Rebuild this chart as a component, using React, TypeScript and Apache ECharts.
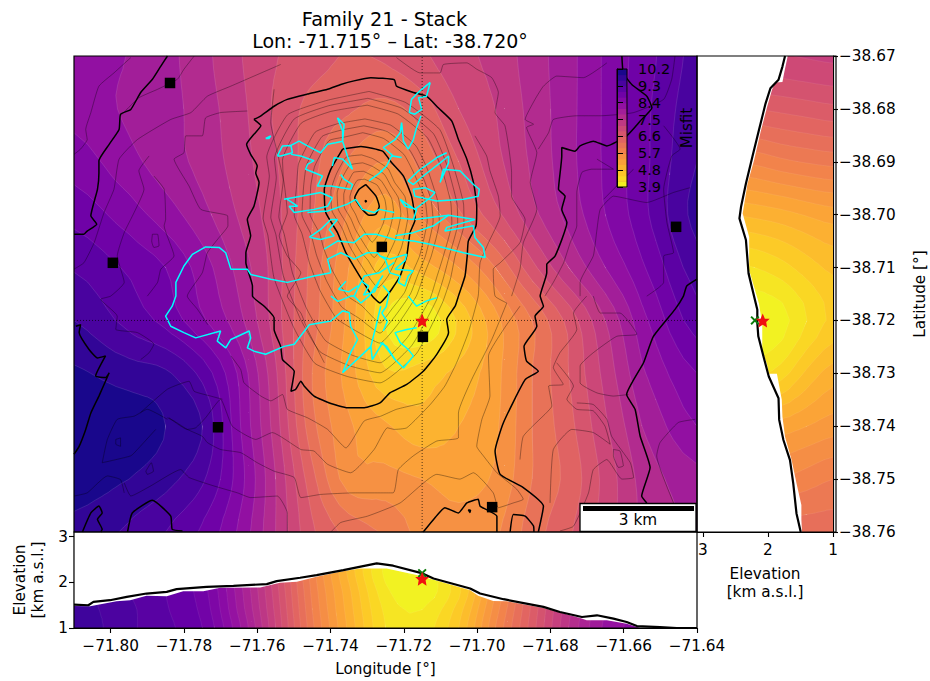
import React, { useEffect, useRef } from "react";
import * as echarts from "echarts";

const LON_W = -71.81, LON_E = -71.64, LAT_N = -38.67, LAT_S = -38.76;
const ELEV_R_MAX = 3.09, ELEV_B_MAX = 3.1;
const FONT = "DejaVu Sans";

const titleLine1 = "Family 21 - Stack";
const titleLine2 = "Lon: -71.715° – Lat: -38.720°";
const lonTicks = [-71.8, -71.78, -71.76, -71.74, -71.72, -71.7, -71.68, -71.66, -71.64];
const latTicks = [-38.67, -38.68, -38.69, -38.7, -38.71, -38.72, -38.73, -38.74, -38.75, -38.76];
const elevTicks = [1, 2, 3];
const misfitTicks = [3.9, 4.8, 5.7, 6.6, 7.5, 8.4, 9.3, 10.2];
const vent = { lon: -71.715, lat: -38.72, elevStarR: 2.08, elevStarB: 2.08, elevCross: 2.2 };

const plasmaStops = ["#0d0887", "#41049d", "#6a00a8", "#8f0da4", "#b12a90", "#cc4778", "#e16462", "#f2844b", "#fca636", "#fcce25", "#f0f921"];
const mapLevels = [3.9, 4.2, 4.5, 4.8, 5.1, 5.4, 5.7, 6, 6.3, 6.6, 6.9, 7.2, 7.5, 7.8, 8.1, 8.4, 8.7, 9, 9.3, 9.6, 9.9, 10.2];
const sectionLevels = [3.7, 3.9, 4.1, 4.3, 4.5, 4.7, 4.9, 5.1, 5.3, 5.5, 5.7, 5.9, 6.1, 6.3, 6.5, 6.7, 6.9, 7.1, 7.3, 7.5, 7.7, 7.9, 8.1, 8.3, 8.5, 8.7, 8.9, 9.1, 9.3, 9.5, 9.7, 9.9];

const lonCols = [-71.81, -71.795, -71.785, -71.775, -71.765, -71.755, -71.745, -71.735, -71.725, -71.715, -71.705, -71.695, -71.685, -71.675, -71.665, -71.655, -71.64];
const latRows = [-38.67, -38.68, -38.69, -38.7, -38.71, -38.72, -38.73, -38.74, -38.75, -38.76];
const misfitMap = [
  [8.25, 8.09, 7.9, 7.6, 7.23, 6.92, 6.72, 6.58, 6.65, 6.85, 7.1, 7.3, 7.65, 8.0, 8.45, 8.85, 9.4],
  [8.3, 8.05, 7.92, 7.65, 7.3, 6.85, 6.5, 6.34, 6.2, 6.45, 6.9, 7.2, 7.6, 8.0, 8.45, 8.9, 9.5],
  [8.56, 8.2, 7.95, 7.7, 7.35, 6.93, 6.4, 5.97, 5.7, 6.1, 6.6, 7.1, 7.55, 8.0, 8.45, 8.9, 9.6],
  [8.9, 8.55, 8.25, 7.9, 7.47, 7.0, 6.33, 5.67, 5.2, 5.75, 6.25, 6.8, 7.4, 7.9, 8.4, 8.9, 9.7],
  [9.27, 8.95, 8.7, 8.25, 7.7, 7.05, 6.2, 5.4, 4.65, 4.95, 5.4, 6.0, 6.8, 7.5, 8.1, 8.65, 9.45],
  [9.6, 9.2, 8.9, 8.45, 7.9, 7.05, 6.15, 5.3, 4.2, 3.95, 4.55, 5.3, 6.0, 6.7, 7.5, 8.3, 9.15],
  [9.95, 9.75, 9.65, 9.2, 8.35, 7.25, 6.0, 5.25, 4.55, 4.65, 4.9, 5.3, 6.0, 6.6, 7.3, 8.05, 8.7],
  [10.15, 10.1, 9.9, 9.6, 8.45, 7.35, 6.1, 5.45, 5.15, 4.9, 5.1, 5.35, 6.0, 6.5, 7.15, 7.8, 8.4],
  [10.08, 9.9, 9.7, 9.35, 8.55, 7.5, 6.4, 5.55, 5.5, 5.4, 5.3, 5.45, 6.0, 6.4, 7.0, 7.6, 8.0],
  [9.8, 9.55, 9.3, 8.95, 8.35, 7.5, 6.65, 6.2, 5.95, 5.6, 5.5, 5.65, 6.15, 6.55, 7.05, 7.55, 7.85],
];
const elevCols = [1.0, 1.4, 1.8, 2.2, 2.6];
const misfitRight = [
  [7.15, 7.12, 7.08, 7.05, 7.0],
  [6.65, 6.6, 6.55, 6.5, 6.45],
  [5.97, 5.92, 5.85, 5.75, 5.7],
  [5.2, 5.12, 5.02, 4.95, 4.9],
  [4.75, 4.6, 4.42, 4.3, 4.25],
  [4.55, 4.3, 4.02, 3.93, 3.95],
  [5.0, 4.75, 4.4, 4.25, 4.25],
  [5.4, 5.3, 5.2, 5.2, 5.2],
  [5.9, 5.8, 5.7, 5.65, 5.65],
  [6.2, 6.2, 6.2, 6.2, 6.2],
];
const misfitBottom = [
  [9.65, 9.35, 9.15, 8.9, 8.15, 7.1, 5.95, 5.05, 4.3, 4.2, 4.7, 5.7, 6.6, 7.5, 8.15, 8.4, 8.6],
  [9.6, 9.35, 9.12, 8.85, 8.05, 7.05, 5.9, 5.0, 4.25, 4.1, 4.6, 5.6, 6.55, 7.45, 8.1, 8.4, 8.6],
  [9.6, 9.3, 9.1, 8.8, 8.0, 7.0, 5.85, 4.95, 4.15, 3.97, 4.45, 5.5, 6.5, 7.4, 8.05, 8.4, 8.6],
  [9.6, 9.3, 9.1, 8.75, 7.95, 6.95, 5.8, 4.85, 4.05, 3.93, 4.5, 5.55, 6.5, 7.4, 8.05, 8.4, 8.6],
  [9.6, 9.3, 9.1, 8.75, 7.95, 6.95, 5.8, 4.85, 4.05, 3.93, 4.5, 5.55, 6.5, 7.4, 8.05, 8.4, 8.6],
];

// Terrain profile, east of LON_W in millidegrees / elevation in km
const profileLon = [[0, 1.513], [3.9, 1.498], [5.3, 1.571], [9.8, 1.608], [14.4, 1.681], [19.8, 1.754], [25.3, 1.791], [28, 1.85], [36.2, 1.901], [43.5, 1.923], [52.6, 1.96], [55.3, 2.026], [61.7, 2.099], [66.2, 2.157], [73.5, 2.267], [82.6, 2.414], [87.1, 2.363], [95.1, 2.194], [98.1, 2.084], [108.1, 1.864], [110.8, 1.754], [117.2, 1.63], [128.1, 1.461], [132.6, 1.351], [138.6, 1.241], [142.7, 1.278], [147.2, 1.205], [150.8, 1.131], [153.6, 1.043], [159.9, 1.021], [164.5, 1.0], [170, 1.0]];
const fillTopLon = [[0, 1.483], [4.4, 1.476], [11.6, 1.586], [15.3, 1.608], [19.8, 1.703], [25.3, 1.696], [29.8, 1.806], [35.3, 1.806], [39.9, 1.879], [50.8, 1.886], [56.2, 1.989], [60.8, 2.011], [66.2, 2.121], [72.6, 2.231], [78.1, 2.304], [85.3, 2.304], [93.5, 2.157], [101.7, 1.974], [108.1, 1.828], [110.3, 1.703], [114.4, 1.593], [118.1, 1.586], [128.1, 1.439], [138.1, 1.219], [139.9, 1.168], [145.4, 1.168], [150.8, 1.095], [154.5, 1.0], [170, 1.0]];
// elevation km / latitude
const profileLat = [[1.737, -38.67], [1.777, -38.672], [1.837, -38.6745], [1.962, -38.6761], [2.037, -38.679], [2.138, -38.684], [2.238, -38.689], [2.338, -38.6941], [2.413, -38.6985], [2.438, -38.7007], [2.338, -38.7048], [2.298, -38.7111], [2.163, -38.718], [2.163, -38.7205], [2.148, -38.723], [2.062, -38.7271], [1.987, -38.7306], [1.837, -38.7347], [1.827, -38.7388], [1.762, -38.7426], [1.661, -38.7464], [1.611, -38.7508], [1.561, -38.7565], [1.496, -38.76]];
const fillTopLat = [[1.696, -38.67], [1.747, -38.673], [1.777, -38.6749], [1.887, -38.675], [1.937, -38.6764], [2.012, -38.6796], [2.112, -38.6843], [2.213, -38.6897], [2.313, -38.6941], [2.388, -38.6998], [2.288, -38.7042], [2.288, -38.7105], [2.138, -38.7168], [2.087, -38.7208], [2.087, -38.7256], [2.012, -38.7284], [1.987, -38.7301], [1.862, -38.7301], [1.787, -38.735], [1.777, -38.7382], [1.737, -38.742], [1.636, -38.7464], [1.561, -38.7508], [1.486, -38.7549], [1.486, -38.7577], [1.476, -38.76]];

const stations = [[-71.7838, -38.6751], [-71.726, -38.7061], [-71.7148, -38.7231], [-71.6457, -38.7023], [-71.7994, -38.7091], [-71.7707, -38.7402], [-71.6959, -38.7553]];

// Map lines: [east of LON_W, south of LAT_N] in millidegrees
const thickContours = [
  [[49.1, 12], [51, 11.3], [54.6, 9.5], [58.2, 8.2], [63.7, 7.2], [69.2, 6.3], [72.8, 5.4], [76.4, 4.7], [81, 4.1], [87.4, 4.5], [88, 5.7], [92.6, 6.9], [96.2, 7.6], [99.4, 9.8], [103.1, 12.3], [104.9, 15.8], [107.2, 19.5], [109, 23.9], [109.9, 28.4], [109.7, 32.1], [107.6, 35], [107.3, 37.8], [106.7, 41.6], [104.9, 45.4], [104, 47.3], [101.7, 49.8], [102.2, 52.3], [99, 56.4], [95.3, 59.6], [90.8, 62.1], [86.2, 63.7], [83.5, 65.6], [79.2, 66.5], [74.6, 66.5], [70.1, 65.7], [65.5, 64.3], [62.8, 62.4], [61.9, 61.5], [60.5, 63], [59.2, 63.4], [60.1, 59.6], [56.9, 57.4], [56.4, 54.9], [54.6, 51.7], [54.6, 49.5], [51.9, 47.3], [48.7, 45.4], [48.7, 43.5], [46.9, 39.1], [46.9, 37.2], [48.2, 34], [47.3, 30.9], [49.1, 28.4], [50.5, 23.9], [49.6, 22.1], [50, 20.8], [48.2, 18.6], [47.1, 16.7], [49.1, 14.8], [51, 13.2], [49.1, 12]],
  [[73.3, 17.6], [78.3, 17.1], [84.2, 18], [86.7, 20.2], [89.9, 22.7], [92.1, 26.5], [93.1, 30.9], [91.7, 33.4], [90.8, 37.8], [89, 41.6], [86.7, 44.1], [85.3, 45.4], [83.5, 46.7], [81.4, 45.4], [77.4, 41], [74.2, 37.2], [71.9, 33.4], [68.7, 29.6], [68.3, 25.2], [70.1, 21.4], [73.3, 17.6]],
  [[79.6, 24.3], [82.4, 26.5], [83.3, 28.4], [82.4, 29.9], [80.5, 30.1], [78.3, 28.7], [76.6, 26.8], [77.8, 25.2], [79.6, 24.3]],
  [[79.4, 27.3], [79.8, 27.4], [79.6, 27.6], [79.4, 27.3]],
  [[25.5, 0], [23.7, 1.9], [21.4, 4.4], [18.2, 6.9], [15.5, 10.1], [12.7, 11], [12.3, 13.9], [9.6, 16.7], [6.8, 19.8], [6.8, 22.1], [6.4, 25.2], [4.6, 30.2], [6.2, 31.8], [3.6, 33.1], [2.7, 33.7], [0, 33.7]],
  [[0.5, 51.1], [1.8, 50.8], [1.4, 52.3], [4.1, 55.5], [6.4, 57.1], [8.6, 56.7], [5.9, 60.5], [8.6, 60.8], [9.6, 59.9], [6.8, 64.3], [4.6, 67.5], [3.2, 70.6], [1.4, 73.8], [0, 75.3]],
  [[2.3, 90], [4.6, 86.4], [6.8, 85.1], [7.7, 86.4], [6.4, 87.6], [7.7, 89.5], [7.3, 90]],
  [[14.6, 90], [15.9, 86.4], [21.4, 84], [26.4, 87], [26.8, 89.5], [29.6, 89.8]],
  [[149.5, 0], [149.9, 3.2], [152.2, 5.4], [156.3, 7.6], [157.7, 9.8], [154.5, 12.3], [150.8, 15.1], [145.4, 17], [141.7, 16.1], [138.1, 17], [136.7, 18], [133.1, 17.3], [133.1, 18.9], [132.2, 25.2], [134, 26.5], [133.1, 29], [134.5, 31.5], [131.3, 37.8], [129, 39.4], [129, 41], [127.2, 45.4], [128.1, 47.3], [125.8, 49.2], [126.3, 51.1], [122.8, 54.9], [123.5, 57.7], [126.7, 59.6], [123.1, 61.2], [117.2, 69.3], [114.9, 74.7], [116.3, 79.1], [122.6, 81.6], [128.1, 85.1], [126.7, 90]],
  [[170, 42.2], [167.2, 43.5], [166.3, 45.4], [164, 47.9], [158.1, 53], [155.4, 58], [150.8, 64], [153.1, 66.8], [154.5, 71.9], [157.2, 77.8], [154.9, 83.2], [156.3, 84.5]],
  [[95.3, 90], [98.5, 87.3], [101.2, 85.4], [104.9, 86.4], [107.2, 84.5], [110.3, 83.8], [110.8, 85.1], [115.4, 87], [115.4, 90]],
  [[119, 90], [119.9, 86.7], [123.1, 87], [125.4, 88.9], [125.5, 90]],
  [[107.6, 85.8], [108.2, 85.9], [108, 86.3], [107.6, 85.8]],
];

const thinContours = [
  [[79.3, 23.3], [82.7, 24.4], [84.8, 27.1], [85.2, 28.9], [84.4, 31.6], [82.7, 34.1], [81.4, 35.2], [79, 32.9], [77.7, 31.4], [76.8, 29.9], [75.5, 28.3], [75.3, 26.6], [76, 25], [77.3, 23.5], [79.3, 23.3]],
  [[79, 21.8], [83.7, 23.5], [86.7, 27], [87.2, 29.4], [86, 33.2], [83.7, 36.6], [81.9, 38.1], [78.6, 34.9], [76.8, 32.8], [75.5, 30.7], [73.8, 28.7], [73.6, 26.2], [74.6, 24.1], [76.3, 22], [79, 21.8]],
  [[78.8, 20.2], [81.5, 20.9], [84.7, 22.4], [86.5, 24.6], [88.5, 26.8], [89.2, 29.9], [87.7, 34.7], [84.7, 39.1], [82.5, 41], [80.2, 38.6], [78.2, 37], [75.9, 34.3], [74.3, 31.6], [72.1, 29], [71.8, 25.9], [73.1, 23.2], [75.3, 20.6], [78.8, 20.2]],
  [[78.5, 18.7], [81.5, 19.4], [85.7, 21.3], [87.5, 23.9], [90.3, 26.6], [91.1, 30.4], [89.3, 36.3], [85.7, 41.6], [83, 43.8], [77.8, 39], [75.1, 35.8], [73.1, 32.5], [70.4, 29.3], [70.1, 25.5], [71.6, 22.3], [74.3, 19.1], [78.5, 18.7]],
  [[78.8, 14.5], [84.5, 15.6], [90, 18.6], [92.5, 21.8], [95.7, 26.9], [96.4, 31.1], [94.3, 37.8], [92, 41.5], [90.2, 44.7], [87, 47.6], [83.5, 50.5], [78.5, 47.2], [74.5, 45.3], [70.6, 40.7], [68.2, 36.5], [67, 33.5], [64.4, 29.9], [64.6, 24.6], [65.7, 20.8], [69.6, 16], [74, 15.3], [78.8, 14.5]],
  [[79.1, 13.2], [85.5, 14.3], [91.6, 17.8], [94.5, 21.6], [97.4, 27.1], [98, 31.2], [95.9, 37.8], [93.8, 41.4], [91.8, 45], [87.8, 49], [83.5, 52.4], [77.8, 49.6], [73, 47.4], [68.9, 42.5], [66.2, 37.7], [64.6, 33.6], [62.2, 30], [62.7, 24.3], [63.5, 20.5], [67.7, 15.2], [73, 14], [79.1, 13.2]],
  [[79.4, 11.9], [86.5, 13.1], [93.3, 17], [96.5, 21.5], [99.2, 27.3], [99.7, 31.4], [97.5, 37.8], [95.6, 41.2], [93.4, 45.4], [88.5, 50.6], [83.5, 54.3], [77, 52], [71.6, 49.6], [67.1, 44.3], [64.2, 39], [62.2, 33.6], [60.1, 30.1], [60.8, 24], [61.3, 20.3], [65.8, 14.4], [72, 12.8], [79.4, 11.9]],
  [[80, 9.3], [88.5, 11], [96.5, 15.5], [100.2, 21], [102.8, 27.6], [103.1, 31.6], [100.8, 37.8], [99, 41.8], [97.1, 46], [91, 53.2], [83.5, 58], [76, 56.6], [68.6, 53.8], [63.5, 47.8], [59.6, 41], [57.4, 33.8], [55.9, 30.4], [57.1, 23.4], [56.9, 19.7], [62, 12.7], [70, 10.5], [80, 9.3]],
  [[80.2, 8], [89.5, 9.9], [98.1, 14.7], [101.8, 20.7], [104.5, 27.8], [104.7, 31.7], [102.4, 37.8], [100.8, 42], [98.8, 46.3], [92.2, 54.7], [83.5, 59.9], [75.3, 58.6], [67.1, 55.9], [61.7, 49.6], [57.1, 41.5], [55.1, 33.8], [53.7, 30.5], [55.2, 23], [54.7, 19.4], [60.1, 11.9], [69.5, 9.4], [80.2, 8]],
  [[80.5, 6.7], [90.5, 8.8], [99.8, 13.9], [103.4, 20.5], [106.3, 28], [106.4, 31.9], [104, 37.8], [102.7, 42.2], [100.5, 46.7], [93.5, 56.2], [83.5, 61.8], [74.6, 60.6], [65.7, 58.1], [60, 51.4], [54.6, 42], [52.9, 33.9], [51.6, 30.7], [53.3, 22.7], [52.6, 19.1], [58.3, 11.1], [69, 8.4], [80.5, 6.7]],
  [[32.8, 0], [30, 2.5], [28.2, 4.4], [22.8, 6.3], [17.7, 7.9], [12.7, 11.3]],
  [[15.5, 0.3], [10.9, 3.2], [6.8, 5.7], [4.6, 10.7], [3.2, 13.9], [3.6, 15.8], [1.8, 17.6], [0, 18.6]],
  [[56.4, 1.6], [49.1, 3.8], [42.8, 5.7], [36.4, 7.6], [31.9, 10.7], [26.4, 12], [17.3, 15.8], [12.3, 19.5], [10.9, 25.2], [8.2, 29.6], [5.5, 35.3], [2.7, 39.1], [0, 40.3]],
  [[47.3, 10.4], [40, 10.7], [35.9, 11.7], [35, 15.1], [30.5, 15.1], [30, 18.3], [27.3, 19.5], [31.4, 24.6], [34.6, 29], [41.9, 30.2], [42, 32.1], [39.6, 34.3], [36.4, 37.2], [35, 41], [30.9, 45.4], [33.7, 47.9], [36.5, 50.8]],
  [[20.5, 18.9], [17.7, 21.7], [19.1, 25.2], [16.4, 29.6], [13.7, 33.4], [11.8, 37.8], [13.7, 42.8], [10, 45.4], [7.3, 46], [11.8, 49.2], [11.4, 51.7], [17.3, 52.3], [21.8, 54.5], [20.5, 56.1], [18.2, 57.4]],
  [[21.8, 22.7], [24.6, 25.2], [25, 30.9], [24.6, 32.1], [27.3, 37.8], [23.7, 40.3], [22.8, 42.8], [20, 45.4]],
  [[21.4, 33.7], [22.8, 33.7], [23.2, 35.9], [21.8, 36.2], [21.2, 35], [21.4, 33.7]],
  [[54.6, 6.3], [53.7, 12.6], [55.5, 18.3], [57.3, 23.9], [58.2, 29.6], [56, 34], [58.2, 37.8], [61.9, 41], [58.2, 45.4], [61.9, 48.6], [63.7, 51.7], [68.3, 58]],
  [[88, 0.3], [94.4, 3.2], [99.9, 3.2], [100.8, 1.6], [107.2, 1.3], [109.9, 2.5], [114, 4.1], [115.8, 6.9], [114.9, 10.7], [117.6, 13.2], [119.4, 22], [119.4, 26.5], [123.1, 30.9], [121.7, 35.3], [116.3, 39.1], [114.4, 40.3], [114.9, 45.4], [118.1, 46.7]],
  [[109.4, 15.1], [112.6, 18.9], [113.5, 21.7], [115.8, 26.5], [116.3, 30.2], [113.1, 35.3], [110.8, 39.1], [110.3, 45.4], [107.6, 52.3], [104.4, 58], [101.2, 62.4], [97.2, 65.9], [90.8, 70.3], [87.4, 70.6], [85.5, 70.3], [81.9, 74.4], [75.5, 78.8], [69.2, 77.2], [65.5, 74.7], [61.9, 74.4], [54.1, 71.2], [49.6, 72.5], [43.2, 70], [40, 64.9], [35.9, 68.4], [33.2, 70.3], [30.9, 70.6], [25.9, 68.4]],
  [[145.4, 1.3], [139, 4.1], [131.7, 3.8], [128.1, 5.7], [125.8, 8.2], [123.1, 12], [125.4, 12.9], [123.5, 13.5], [126.3, 18.3], [124.5, 23.9], [126.3, 29], [122.6, 35.3], [121.7, 40.3], [119.4, 45.4]],
  [[164, 0], [163.1, 4.4], [160.9, 8.2], [152.7, 10.7], [143.6, 11.3], [137.2, 11.3], [130.8, 12], [129.5, 14.5], [126.7, 17.6]],
  [[142.7, 19.5], [147.2, 21.4], [141.3, 21.4], [138.6, 22], [137.2, 25.8], [137.2, 32.1], [135.4, 35.3], [133.6, 39.1], [130.8, 42.8], [128.5, 45.4]],
  [[168.1, 24.9], [163.6, 25.8], [156.3, 27.7], [147.2, 26.5], [143.6, 29], [142.7, 32.8], [141.7, 37.8], [138.1, 42.8], [138.1, 45.4]],
  [[152.7, 21.4], [149.9, 23.3], [144.5, 27.1]],
  [[160.9, 13.2], [165.4, 17.6], [163.1, 18.9], [160.9, 25.2], [161.8, 31.5], [163.6, 37.2], [160.9, 37.8], [160.9, 42.8], [156.3, 45.4]],
  [[42.8, 56.7], [45.5, 59.3], [46.4, 61.8], [51, 64.3], [53.7, 65.2], [56.9, 64], [58.2, 66.8], [63.7, 68.4], [69.2, 70.6], [74.2, 74.1], [79.2, 69], [83.7, 68.1], [88, 66.8], [95.3, 65.6]],
  [[18.2, 67.4], [25.5, 63], [31.4, 61.5], [32.8, 63.4], [37.3, 64.3], [40.5, 64.9]],
  [[25.5, 68.4], [27.3, 69], [30.9, 70.6], [35, 71.9], [36.4, 73.1], [40, 74.4], [45.5, 75], [50, 76.9], [54.6, 78.5], [60.1, 79.7], [61.9, 83.5], [67.3, 82.9], [76.4, 82.6], [87.1, 82.6], [88.5, 78.2], [92.6, 75.6], [99, 72.8], [104.9, 72.2], [104.9, 67.5], [108.5, 61.2], [114, 53.6], [118.1, 46.7]],
  [[13.7, 80.7], [15.5, 83.2], [20.9, 81.3], [29.1, 78.2], [31.4, 79.7], [38.2, 81.3], [44.6, 82.6], [48.2, 83.5], [55.5, 83.2], [58.2, 86.4], [58.2, 90]],
  [[7.7, 76.9], [9.1, 72.5], [11.8, 68.7], [16.4, 68.1], [20, 66.8], [25.5, 68.7]],
  [[7.7, 76.9], [15.5, 75.6], [17.3, 74.4], [22.3, 70.6]],
  [[11.4, 72.5], [12.7, 72.2], [12.7, 73.8], [11.4, 73.4], [11.4, 72.5]],
  [[19.6, 78.5], [21.1, 76.9], [21.7, 78.5], [20, 79.1], [19.6, 78.5]],
  [[70.1, 90], [72.8, 88.2], [80.1, 87], [89, 84.5], [99, 79.1], [105.3, 80], [109, 78.8], [114.4, 82.6], [115.8, 85.4], [119.9, 84.5], [122.6, 83.8], [120.8, 81.9], [115.4, 78.8], [111.7, 75.6], [109.9, 73.8], [111.3, 68.7], [113.5, 64.3], [113.1, 56.7], [117.2, 51.7], [121.7, 47.3]],
  [[0, 83.2], [3.6, 82.6], [9.1, 79.4], [12.7, 80.1], [13.7, 82.6]],
  [[121.7, 76.3], [122.6, 71.9], [129, 67.4], [130.4, 66.2], [129.5, 62.4], [133.5, 62.1], [130.8, 58.9], [132.6, 56.1], [137.2, 51.7], [136.3, 48.6], [139.9, 45.4]],
  [[129.9, 84.5], [130.8, 74.4], [135.8, 70.6], [141.7, 71.2], [146.3, 73.4], [144.9, 70], [141.7, 67.1], [137.2, 66.8], [134.5, 64.9], [136.3, 62.4], [131.7, 58]],
  [[137.2, 65.6], [141.7, 65.9], [145.4, 68.7], [146.7, 71.9], [151.8, 76.9], [152.7, 79.7], [149.5, 80], [145.4, 76.3], [141.7, 78.2], [140.4, 82.6], [136.3, 88.9], [132.6, 89.8]],
  [[147.2, 74.4], [149, 74.7], [149.9, 77.5], [148.6, 77.8], [147.2, 75.6], [147.2, 74.4]],
  [[163.6, 84.5], [159, 75.6], [159.9, 73.1], [164.9, 69.3], [169.5, 68.7]],
  [[151.3, 64], [147.2, 64.3], [142.7, 63.7], [138.1, 61.8], [138.1, 58.6], [141.7, 56.1], [148.1, 53], [153.6, 52.6], [149, 48.6], [143.6, 48.6], [141.7, 45.4]],
];

const lavaFlows = [
  [[70.1, 41], [65.5, 41.6], [58.2, 42.8], [53.7, 42.2], [48.2, 41.3], [47.3, 40.3], [42.8, 40.3], [41.4, 37.2], [39.6, 36.2], [35.9, 36.1], [32.3, 37.5], [30, 39.7], [27.8, 42.8], [27.8, 45.4], [26.8, 47.3], [25, 49.2], [26.4, 51.1], [30, 52.3], [33.2, 53.3], [40, 52], [39.1, 53.9], [41.4, 55.2], [42.8, 53.6], [47.8, 52], [48.2, 53.3], [47.3, 55.2], [49.1, 55.8], [52.3, 56.4], [57.3, 54.9], [60.1, 54.5], [64.2, 50.8], [70.1, 50.1], [73.3, 48.2], [75.1, 48.5], [75.5, 51.1], [77.4, 53.6], [75.5, 56.1], [73.3, 59.9], [78.3, 56.7], [81, 54.9], [81.4, 57.4], [84.2, 54.2], [87.6, 57.4], [89.9, 59], [92.6, 56.7], [91.2, 55.5], [89, 54.2], [87.6, 52.3], [90.8, 51.7], [93.5, 51.4]],
  [[83.7, 47.3], [82.4, 51.1], [81, 54.9]],
  [[83.5, 54.2], [85.3, 54.9], [87.6, 57.4]],
  [[70.1, 45.4], [72, 46.4], [75.5, 45.4], [76.4, 45.4], [78.3, 46.7], [80.5, 45.4], [84.3, 41.5]],
  [[91.2, 45.4], [93.5, 47.3], [96.2, 46.3], [99, 45.7]],
  [[84.3, 43.4], [86, 44.8], [85.2, 47.4], [84, 48.6], [85.5, 50.2], [84.4, 52]],
  [[78.5, 42.6], [80.4, 43.5], [79, 45.2], [82, 44.6], [83.2, 42.8]],
  [[74.2, 42.6], [72.2, 44.1], [75, 44.6], [77.6, 43.4]],
  [[97.2, 5], [96.2, 7.6], [94, 7.9], [94.9, 10.1], [93, 11], [91.5, 10.7], [92.1, 8.2], [93.5, 7.2], [94.4, 6.6], [97.2, 5]],
  [[94.7, 11.3], [93.5, 13.5], [92.6, 15.8], [91.2, 17.6], [89.9, 16.1], [89.4, 12.6], [89, 14.5], [87.6, 15.8], [84.4, 17.3], [87.1, 18.9], [89.4, 19.2], [86.7, 18.9], [85.3, 20.8], [83.5, 22], [84.2, 21.7], [80.5, 23.6]],
  [[101.7, 18.3], [99, 19.2], [94, 21.7], [91.2, 23.6], [92.6, 24.3], [95.8, 22.4], [99.9, 20.2], [102.2, 18.9], [102.2, 20.2], [99.9, 23.9], [100.8, 21.4], [105.3, 21.7], [109, 24.3], [110.6, 25.2], [110.3, 26.5], [106.3, 27.1], [99, 27.4], [93, 26.5], [92.6, 25.2], [95.8, 24.9], [98.5, 25.8], [97.2, 26.8], [93, 29], [89, 27.1], [90.3, 28.4], [93.5, 29], [92.6, 30.9], [88.5, 30.6], [83.7, 30.9]],
  [[93, 30.9], [102.2, 30.1], [109.4, 30.9], [101.7, 32.4], [101.2, 33.1], [109, 32.1], [109.4, 34.3], [111.7, 36.2], [112.2, 38.1], [106.3, 37.2], [97.2, 35.6], [92.6, 35], [87.6, 34.7], [82.4, 33.7], [79.2, 33.7], [76.4, 35.3], [71.9, 35], [68.3, 36.5]],
  [[102.2, 30.1], [98.1, 32.1], [92.6, 33.4], [87.6, 34]],
  [[83.5, 37.8], [86.2, 38.4], [90.8, 37.5], [90.3, 38.7], [87.6, 40.3], [92.6, 40.6], [91.2, 41.6], [90.3, 43.5], [88.5, 42.8], [89, 41.6], [86.2, 41], [84.9, 38.4], [83.5, 37.8], [82.8, 37.2], [80.1, 37.2], [76.4, 38.4], [72.8, 37.2], [69.2, 38.4], [70.1, 41]],
  [[52.3, 15.6], [53.7, 15.1], [53.2, 15.6], [52.3, 15.6]],
  [[55.5, 18.9], [56.9, 17], [59.2, 16.9], [59.6, 18.3], [56.4, 18.9], [55.5, 18.9]],
  [[59.2, 16.9], [61.4, 16.1], [63.7, 17], [67.3, 18.3], [69.2, 16.7], [71.4, 16.4], [73.3, 16.1], [73.3, 14.2], [71.9, 11.7], [73.7, 12.9], [73.3, 16.1], [74.6, 18.9], [76, 21.4], [73.3, 19.5], [71, 19.2], [70.5, 20.8]],
  [[59.2, 18.6], [61.9, 18.9], [65.5, 19.8], [63.7, 20.5], [63.2, 21.4], [67.8, 22.7], [66.4, 24.6], [70.1, 24.6], [75.5, 25.2], [76, 24.3], [73.7, 23.3], [72.8, 22.4]],
  [[57.3, 27.1], [61.9, 26.5], [67.3, 25.8], [70.5, 26.8], [69.2, 28.4], [65.5, 29], [60.1, 29.6], [58.7, 28.4], [61, 28.4], [58.2, 27.1]],
  [[63.7, 29.6], [69.2, 29.3], [74.6, 28], [76.9, 27.1], [78.7, 29], [81.9, 29.6], [83.3, 29], [87.4, 29.6]],
  [[64.2, 34.3], [67.3, 32.8], [70.1, 30.9], [71.9, 30.9], [69.6, 32.8], [71, 34], [67.3, 34.7], [64.6, 34.3]],
  [[76.4, 45.4], [79.2, 41.6], [83.3, 41], [87.4, 39]],
];

const plasma = (p: number) => {
  const t = Math.min(1, Math.max(0, p)) * (plasmaStops.length - 1);
  const i = Math.min(plasmaStops.length - 2, Math.floor(t));
  const f = t - i;
  const rgb = (h: string) => [1, 3, 5].map((k) => parseInt(h.slice(k, k + 2), 16));
  const a = rgb(plasmaStops[i]), b = rgb(plasmaStops[i + 1]);
  return `rgb(${a.map((v, k) => Math.round(v + (b[k] - v) * f)).join(",")})`;
};
const misfitColor = (v: number) => plasma(1 - (v - 3.9) / 6.3);

const toLL = (line: number[][]) => line.map(([a, b]) => [LON_W + a / 1000, LAT_N - b / 1000]);
const toLonElev = (line: number[][]) => line.map(([a, e]) => [LON_W + a / 1000, e]);

const cr = (a: number, b: number, c: number, d: number, t: number) =>
  0.5 * (2 * b + (c - a) * t + (2 * a - 5 * b + 4 * c - d) * t * t + (3 * b - a - 3 * c + d) * t * t * t);

// Filled contours of a value table: smooth sampling of the table for rendering, clipped to each level
function contourRender(xs: number[], ys: number[], table: number[][], levels: number[], seam: number, sub: number) {
  return (_p: any, api: any) => {
    const nR = ys.length, nC = xs.length;
    const at = (r: number, c: number) => table[Math.min(nR - 1, Math.max(0, r))][Math.min(nC - 1, Math.max(0, c))];
    const nodes: any[][] = [];
    for (let i = 0; i <= (nR - 1) * sub; i++) {
      const r0 = Math.min(nR - 2, Math.floor(i / sub)), tr = i / sub - r0;
      const y = ys[r0] + (ys[r0 + 1] - ys[r0]) * tr;
      const row: any[] = [];
      for (let j = 0; j <= (nC - 1) * sub; j++) {
        const c0 = Math.min(nC - 2, Math.floor(j / sub)), tc = j / sub - c0;
        const x = xs[c0] + (xs[c0 + 1] - xs[c0]) * tc;
        const col = [-1, 0, 1, 2].map((dr) => cr(at(r0 + dr, c0 - 1), at(r0 + dr, c0), at(r0 + dr, c0 + 1), at(r0 + dr, c0 + 2), tc));
        const [px, py] = api.coord([x, y]);
        row.push({ x: px, y: py, v: cr(col[0], col[1], col[2], col[3], tr) });
      }
      nodes.push(row);
    }
    const tris: any[] = [];
    for (let r = 0; r < nodes.length - 1; r++) {
      for (let c = 0; c < nodes[0].length - 1; c++) {
        const a = nodes[r][c], b = nodes[r][c + 1], d = nodes[r + 1][c], e = nodes[r + 1][c + 1];
        tris.push({ p: [a, b, e], max: Math.max(a.v, b.v, e.v) }, { p: [a, e, d], max: Math.max(a.v, e.v, d.v) });
      }
    }
    const children: any[] = [];
    const isoParts: string[] = [];
    const f = (n: number) => n.toFixed(1);
    for (let k = levels.length - 2; k >= 0; k--) {
      const top = k === levels.length - 2 ? Infinity : levels[k + 1];
      let d = "";
      for (const tri of tris) {
        if (k > 0 && tri.max <= levels[k]) continue;
        const t = tri.p;
        const out: any[] = [];
        const cross: any[] = [];
        for (let i = 0; i < 3; i++) {
          const p = t[i], q = t[(i + 1) % 3];
          const pin = p.v <= top, qin = q.v <= top;
          if (pin) out.push(p);
          if (pin !== qin) {
            const s = (top - p.v) / (q.v - p.v);
            const m = { x: p.x + (q.x - p.x) * s, y: p.y + (q.y - p.y) * s };
            out.push(m);
            cross.push(m);
          }
        }
        if (out.length >= 3) d += "M" + out.map((m) => f(m.x) + " " + f(m.y)).join("L") + "Z";
        if (cross.length === 2) isoParts.push(`M${f(cross[0].x)} ${f(cross[0].y)}L${f(cross[1].x)} ${f(cross[1].y)}`);
      }
      if (d) children.push({ type: "path", shape: { pathData: d }, style: { fill: misfitColor((levels[k] + levels[k + 1]) / 2), stroke: null } });
    }
    if (isoParts.length && seam > 0) {
      children.push({ type: "path", shape: { pathData: isoParts.join("") }, style: { fill: null, stroke: "#ffffff", opacity: seam, lineWidth: 0.7 } });
    }
    return { type: "group", children };
  };
}

const maskRender = (pts: number[][]) => (_p: any, api: any) => ({
  type: "polygon",
  shape: { points: pts.map((p) => api.coord(p)) },
  style: { fill: "#ffffff", stroke: null },
});

const colorbarRender = (p: any, api: any) => {
  const lo = mapLevels[p.dataIndex], hi = mapLevels[p.dataIndex + 1];
  const [x0, y0] = api.coord([0, lo]);
  const [x1, y1] = api.coord([1, hi]);
  return { type: "rect", shape: { x: x0, y: y1, width: x1 - x0, height: y0 - y1 + 0.5 }, style: { fill: misfitColor((lo + hi) / 2) } };
};

const STAR = "path://M0,-10 L2.9,-3.1 L9.5,-3.1 L4.7,1.2 L5.9,8.1 L0,4.5 L-5.9,8.1 L-4.7,1.2 L-9.5,-3.1 L-2.9,-3.1 Z";
const CROSS = "path://M-10,-7 L-7,-10 L0,-3 L7,-10 L10,-7 L3,0 L10,7 L7,10 L0,3 L-7,10 L-10,7 L-3,0 Z";
const minus = (s: string) => s.replace("-", "\u2212");

const lineSeries = (data: number[][], xi: number, yi: number, style: any, z: number, smooth = 0) => ({
  type: "line", xAxisIndex: xi, yAxisIndex: yi, data, showSymbol: false, symbol: "none", silent: true, z, lineStyle: style, clip: true, smooth,
});
const dot = (xi: number, yi: number, symbol: string, size: number, color: string, z: number, data: number[][]) => ({
  type: "scatter", xAxisIndex: xi, yAxisIndex: yi, z, silent: true, symbol, symbolSize: size, itemStyle: { color, opacity: 1 }, data,
});

export default function App() {
  const ref = useRef<HTMLDivElement>(null);
  useEffect(() => {
    const chart = echarts.init(ref.current!, undefined, { renderer: "svg" });
    const axisCommon = {
      type: "value", splitLine: { show: false },
      axisLine: { show: true, onZero: false, lineStyle: { color: "#000", width: 1.2 } },
      axisTick: { show: true, length: 5, lineStyle: { color: "#000", width: 1.1 } },
      nameTextStyle: { fontFamily: FONT, fontSize: 15.3, color: "#000", lineHeight: 18 },
    };
    const labelStyle = { fontFamily: FONT, fontSize: 15.3, color: "#000", margin: 6 };
    const option: any = {
      animation: false,
      backgroundColor: "#fff",
      title: [
        { text: titleLine1, left: 379.5, top: 5, textAlign: "center", textStyle: { fontFamily: FONT, fontSize: 19.3, fontWeight: "normal", color: "#000" } },
        { text: titleLine2, left: 385, top: 26, textAlign: "center", textStyle: { fontFamily: FONT, fontSize: 19, fontWeight: "normal", color: "#000" } },
      ],
      grid: [
        { left: 74, top: 56, width: 623, height: 476 },
        { left: 697, top: 56, width: 139, height: 476 },
        { left: 74, top: 532, width: 623, height: 96 },
        { left: 617, top: 69, width: 10, height: 118 },
      ],
      xAxis: [
        { ...axisCommon, gridIndex: 0, min: LON_W, max: LON_E, show: false },
        {
          ...axisCommon, gridIndex: 1, min: 1, max: ELEV_R_MAX, inverse: true, position: "bottom",
          axisTick: { ...axisCommon.axisTick, customValues: elevTicks },
          axisLabel: { ...labelStyle, margin: 10, customValues: elevTicks, formatter: (v: number) => String(v) },
          name: "Elevation\n[km a.s.l.]", nameLocation: "middle", nameGap: 33,
        },
        {
          ...axisCommon, gridIndex: 2, min: LON_W, max: LON_E, position: "bottom",
          axisTick: { ...axisCommon.axisTick, customValues: lonTicks },
          axisLabel: { ...labelStyle, margin: 10, customValues: lonTicks, formatter: (v: number) => minus(v.toFixed(2)) },
          name: "Longitude [°]", nameLocation: "middle", nameGap: 32,
        },
        { ...axisCommon, gridIndex: 3, min: 0, max: 1, show: false },
      ],
      yAxis: [
        { ...axisCommon, gridIndex: 0, min: LAT_S, max: LAT_N, show: false },
        {
          ...axisCommon, gridIndex: 1, min: LAT_S, max: LAT_N, position: "right",
          axisTick: { ...axisCommon.axisTick, customValues: latTicks },
          axisLabel: { ...labelStyle, customValues: latTicks, formatter: (v: number) => minus(v.toFixed(2)) },
          name: "Latitude [°]", nameLocation: "middle", nameGap: 78, nameRotate: 90,
        },
        {
          ...axisCommon, gridIndex: 2, min: 1, max: ELEV_B_MAX, position: "left",
          axisTick: { ...axisCommon.axisTick, customValues: elevTicks },
          axisLabel: { ...labelStyle, customValues: elevTicks, formatter: (v: number) => String(v) },
          name: "Elevation\n[km a.s.l.]", nameLocation: "middle", nameGap: 27, nameRotate: 90,
        },
        {
          ...axisCommon, gridIndex: 3, min: 3.9, max: 10.2, position: "right", z: 30,
          axisLine: { show: true, lineStyle: { color: "#000", width: 1 } },
          axisTick: { show: true, length: 6, customValues: misfitTicks, lineStyle: { color: "#000", width: 1 } },
          axisLabel: { fontFamily: FONT, fontSize: 14.5, color: "#000", margin: 11, customValues: misfitTicks, formatter: (v: number) => v.toFixed(1) },
          name: "Misfit", nameLocation: "middle", nameGap: 52, nameRotate: 90, nameTextStyle: { fontFamily: FONT, fontSize: 15, color: "#000" },
        },
      ],
      graphic: [
        { type: "rect", z: 40, silent: true, shape: { x: 74, y: 56, width: 623, height: 476 }, style: { fill: "none", stroke: "#000", lineWidth: 1.2 } },
        { type: "rect", z: 40, silent: true, shape: { x: 697, y: 56, width: 139, height: 476 }, style: { fill: "none", stroke: "#000", lineWidth: 1.2 } },
        { type: "rect", z: 40, silent: true, shape: { x: 74, y: 532, width: 623, height: 96 }, style: { fill: "none", stroke: "#000", lineWidth: 1.2 } },
        { type: "rect", z: 40, silent: true, shape: { x: 617, y: 69, width: 10, height: 118 }, style: { fill: "none", stroke: "#000", lineWidth: 1 } },
        { type: "rect", z: 35, silent: true, shape: { x: 580, y: 503.5, width: 116, height: 28 }, style: { fill: "#fff", stroke: "#000", lineWidth: 1.3 } },
        { type: "rect", z: 36, silent: true, shape: { x: 583, y: 506, width: 111, height: 5 }, style: { fill: "#000" } },
        { type: "text", z: 36, silent: true, style: { x: 638, y: 512, text: "3 km", fontFamily: FONT, fontSize: 15.3, fill: "#000", textAlign: "center", textVerticalAlign: "top" } },
      ],
      series: [
        { type: "custom", xAxisIndex: 0, yAxisIndex: 0, z: 1, silent: true, data: [[LON_W, LAT_S]], renderItem: contourRender(lonCols, latRows, misfitMap, mapLevels, 0.16, 4) },
        { type: "custom", xAxisIndex: 1, yAxisIndex: 1, z: 1, silent: true, data: [[1, LAT_S]], renderItem: contourRender(elevCols, latRows, misfitRight, sectionLevels, 0.1, 3) },
        { type: "custom", xAxisIndex: 2, yAxisIndex: 2, z: 1, silent: true, data: [[LON_W, 1]], renderItem: contourRender(lonCols, elevCols, misfitBottom, sectionLevels, 0.1, 3) },
        { type: "custom", xAxisIndex: 1, yAxisIndex: 1, z: 2, silent: true, data: [[1, LAT_S]], renderItem: maskRender([...fillTopLat, [ELEV_R_MAX, LAT_S], [ELEV_R_MAX, LAT_N]]) },
        { type: "custom", xAxisIndex: 2, yAxisIndex: 2, z: 2, silent: true, data: [[LON_W, 1]], renderItem: maskRender([...toLonElev(fillTopLon), [LON_E, ELEV_B_MAX], [LON_W, ELEV_B_MAX]]) },
        ...thinContours.map((l) => lineSeries(toLL(l), 0, 0, { color: "#000", width: 0.75, opacity: 0.45 }, 3, 0.15)),
        ...thickContours.map((l) => lineSeries(toLL(l), 0, 0, { color: "#000", width: 1.5 }, 4, 0.15)),
        ...lavaFlows.map((l) => lineSeries(toLL(l), 0, 0, { color: "#0ff", width: 1.5 }, 5)),
        lineSeries([[LON_W, vent.lat], [LON_E, vent.lat]], 0, 0, { color: "#000", width: 0.8, type: [1, 2], opacity: 0.85 }, 6),
        lineSeries([[vent.lon, LAT_S], [vent.lon, LAT_N]], 0, 0, { color: "#000", width: 0.8, type: [1, 2], opacity: 0.85 }, 6),
        dot(0, 0, "rect", 10.5, "#000", 7, stations),
        dot(0, 0, STAR, 14, "#f01010", 8, [[vent.lon, vent.lat]]),
        lineSeries(profileLat, 1, 1, { color: "#000", width: 2.2 }, 4),
        lineSeries(toLonElev(profileLon), 2, 2, { color: "#000", width: 2.2 }, 4),
        dot(1, 1, CROSS, 9, "#0a7a0a", 7, [[vent.elevCross, vent.lat]]),
        dot(1, 1, STAR, 14, "#f01010", 8, [[vent.elevStarR, vent.lat]]),
        dot(2, 2, CROSS, 9, "#0a7a0a", 7, [[vent.lon, vent.elevCross]]),
        dot(2, 2, STAR, 14, "#f01010", 8, [[vent.lon, vent.elevStarB]]),
        { type: "custom", xAxisIndex: 3, yAxisIndex: 3, z: 20, silent: true, data: mapLevels.slice(0, -1).map((v) => [0, v]), renderItem: colorbarRender },
      ],
    };
    chart.setOption(option);
    return () => chart.dispose();
  }, []);
  return <div ref={ref} style={{ position: "absolute", left: 0, top: 0, width: 930, height: 681 }} />;
}
